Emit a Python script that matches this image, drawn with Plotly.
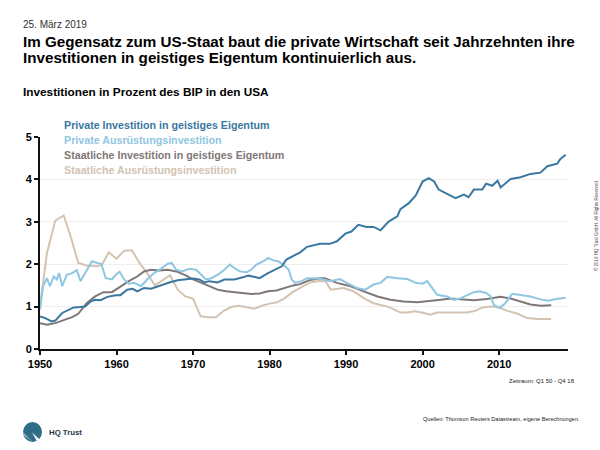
import plotly.graph_objects as go

# ---------------- data ----------------
priv_ip_x = [1950, 1950.7, 1951.5, 1952, 1952.9, 1953.7, 1954.4, 1955.3, 1955.9, 1956.6, 1957.2, 1957.9,
             1958.8, 1959.9, 1960.5, 1961.4, 1962.1, 1962.7, 1963.6, 1964.5, 1965.4, 1966.2, 1967.1,
             1968, 1968.9, 1970, 1970.8, 1971.5, 1972.1, 1973.2, 1974.1, 1975.4, 1976.5, 1977.2,
             1978.1, 1978.7, 1979.8, 1980.7, 1981.6, 1982.2, 1983.1, 1984, 1984.9, 1985.8, 1986.6,
             1987.9, 1988.8, 1989.9, 1990.7, 1991.6, 1992.7, 1993.6, 1994.5, 1995.6, 1996.7, 1997.1,
             1998.2, 1999.1, 2000, 2000.8, 2001.5, 2002.1, 2003.2, 2004.3, 2005.4, 2006, 2006.7,
             2007.8, 2008.3, 2009.1, 2009.8, 2010.2, 2011.5, 2012.8, 2014.1, 2015.4, 2016.3, 2017.6,
             2018, 2018.7]
priv_ip_y = [0.77, 0.73, 0.65, 0.67, 0.85, 0.93, 0.98, 0.99, 1.0, 1.12, 1.16, 1.15,
             1.23, 1.27, 1.27, 1.40, 1.42, 1.36, 1.44, 1.42, 1.48, 1.52, 1.58,
             1.62, 1.64, 1.66, 1.64, 1.57, 1.60, 1.57, 1.64, 1.64, 1.69, 1.73,
             1.70, 1.67, 1.79, 1.87, 1.95, 2.11, 2.19, 2.28, 2.41, 2.44, 2.48,
             2.48, 2.54, 2.72, 2.77, 2.93, 2.88, 2.88, 2.80, 3.01, 3.13, 3.30,
             3.44, 3.62, 3.95, 4.03, 3.95, 3.76, 3.66, 3.56, 3.64, 3.58, 3.76,
             3.76, 3.90, 3.85, 3.97, 3.81, 4.01, 4.05, 4.13, 4.16, 4.31, 4.37,
             4.48, 4.58]

priv_eq_x = [1950, 1950.4, 1950.9, 1951.3, 1951.8, 1952.2, 1952.5, 1952.9, 1953.5, 1954.2, 1954.8,
             1955.3, 1955.9, 1956.4, 1956.8, 1957.5, 1958, 1958.6, 1959.4, 1959.9, 1960.4, 1961,
             1961.6, 1962.3, 1963.2, 1964, 1964.9, 1965.8, 1966.7, 1967.2, 1967.8, 1968.6, 1969.5,
             1970.4, 1971.1, 1971.7, 1972.4, 1973.2, 1974.1, 1974.8, 1975.4, 1976.1, 1977, 1977.6,
             1978.3, 1979.2, 1979.8, 1980.5, 1981.1, 1981.8, 1982.5, 1982.9, 1983.3, 1984.2,
             1984.9, 1986.6, 1987.9, 1989.2, 1990.1, 1991.4, 1992.5, 1993.6, 1994.5, 1995.4,
             1996.7, 1998, 1999.1, 2000, 2000.6, 2001.1, 2001.9, 2003.2, 2004.1, 2005, 2006,
             2006.7, 2007.4, 2008.3, 2008.9, 2009.3, 2010.1, 2010.8, 2011.7, 2012.8, 2014.1,
             2015.4, 2016.4, 2017.5, 2018.7]
priv_eq_y = [0.93, 1.48, 1.67, 1.48, 1.71, 1.64, 1.79, 1.48, 1.75, 1.79, 1.86,
             1.60, 1.79, 1.95, 2.07, 2.03, 2.01, 1.67, 1.64, 1.75, 1.82, 1.64,
             1.54, 1.56, 1.48, 1.64, 1.79, 1.89, 2.01, 2.03, 1.87, 1.83, 1.89,
             1.87, 1.75, 1.64, 1.67, 1.75, 1.87, 1.99, 1.91, 1.83, 1.81, 1.87,
             1.99, 2.07, 2.15, 2.09, 2.07, 1.99, 1.87, 1.64, 1.56, 1.60,
             1.67, 1.66, 1.60, 1.65, 1.56, 1.44, 1.40, 1.52, 1.56, 1.70,
             1.67, 1.65, 1.56, 1.54, 1.60, 1.48, 1.28, 1.24, 1.16, 1.20, 1.28,
             1.34, 1.36, 1.32, 1.24, 1.04, 0.97, 1.08, 1.30, 1.28, 1.24,
             1.17, 1.14, 1.18, 1.21]

gov_ip_x = [1950, 1950.9, 1952, 1953.1, 1954.2, 1955, 1956.1, 1957.2, 1958.3, 1959.4, 1960.5,
            1961.6, 1962.7, 1963.6, 1964.5, 1965.6, 1966.7, 1967.8, 1968.9, 1970, 1971.1, 1972.1,
            1973.2, 1974.3, 1975.4, 1976.5, 1977.6, 1978.7, 1979.8, 1980.9, 1982, 1983.1, 1984,
            1985.3, 1986.6, 1987.2, 1988.8, 1990.6, 1992.3, 1994.1, 1995.8, 1997.5, 1999.3,
            2000.6, 2002.4, 2003.6, 2005.4, 2006.7, 2008.4, 2010.2, 2011.5, 2012.8, 2014.1,
            2015.4, 2016.8]
gov_ip_y = [0.61, 0.57, 0.61, 0.68, 0.75, 0.83, 1.08, 1.24, 1.34, 1.34, 1.48,
            1.60, 1.71, 1.83, 1.87, 1.85, 1.87, 1.83, 1.75, 1.64, 1.56, 1.48,
            1.40, 1.36, 1.34, 1.32, 1.30, 1.31, 1.36, 1.38, 1.44, 1.50, 1.53,
            1.63, 1.67, 1.67, 1.56, 1.48, 1.36, 1.24, 1.16, 1.12, 1.10,
            1.12, 1.16, 1.19, 1.16, 1.15, 1.18, 1.23, 1.19, 1.12, 1.05,
            1.02, 1.03]

gov_eq_x = [1950, 1950.9, 1952, 1953.1, 1954, 1955, 1956.1, 1957.5, 1958.1, 1959, 1960, 1961,
            1962, 1963, 1964, 1965, 1966, 1967, 1968, 1969, 1970, 1971, 1972, 1973, 1974,
            1975, 1976, 1977, 1978, 1979, 1980, 1981, 1982, 1983, 1984, 1985.3, 1986.6,
            1987.3, 1988, 1989.7, 1991, 1992.3, 1993.6, 1995.4, 1996.2, 1997.1, 1998, 1999,
            2000.2, 2001, 2001.9, 2003.6, 2005.8, 2006.9, 2007.8, 2008.9, 2010, 2011.1,
            2012.4, 2013.7, 2015, 2016.8]
gov_eq_y = [1.0, 2.26, 3.03, 3.15, 2.66, 2.03, 1.97, 1.95, 1.99, 2.28, 2.13, 2.32,
            2.33, 2.03, 1.79, 1.50, 1.62, 1.74, 1.40, 1.24, 1.19, 0.77, 0.75, 0.75, 0.90,
            0.99, 1.02, 0.99, 0.95, 1.02, 1.07, 1.10, 1.20, 1.34, 1.44, 1.57, 1.61,
            1.60, 1.40, 1.44, 1.36, 1.20, 1.08, 1.00, 0.94, 0.86, 0.86, 0.89,
            0.85, 0.81, 0.86, 0.86, 0.86, 0.90, 0.98, 1.00, 0.98, 0.90,
            0.83, 0.73, 0.71, 0.71]

series_names = ["Private Investition in geistiges Eigentum",
                "Private Ausrüstungsinvestition",
                "Staatliche Investition in geistiges Eigentum",
                "Staatliche Ausrüstungsinvestition"]
series_colors = ["#3a77a1", "#8fc6e1", "#7f7776", "#d3c3b3"]

x_ticks = [1950, 1960, 1970, 1980, 1990, 2000, 2010]
y_ticks = [0, 1, 2, 3, 4, 5]

# ---------------- layout geometry (pixels) ----------------
W, H = 600, 450
L, R, T, B = 40, 568, 137, 349


def px(x):
    return (x - L) / (R - L)


def py(y):
    return (B - y) / (B - T)


fig = go.Figure()
data = [(gov_eq_x, gov_eq_y, 3), (gov_ip_x, gov_ip_y, 2), (priv_eq_x, priv_eq_y, 1), (priv_ip_x, priv_ip_y, 0)]
for xs, ys, i in data:
    fig.add_trace(go.Scatter(x=xs, y=ys, mode="lines", name=series_names[i],
                             line=dict(color=series_colors[i], width=2), showlegend=False,
                             hoverinfo="skip"))

FONT = "Liberation Sans, Arial, sans-serif"
ann = []


def text(x, y, s, size, color, xanchor="left", **kw):
    d = dict(xref="paper", yref="paper", x=px(x), y=py(y), text=s, showarrow=False,
             xanchor=xanchor, yanchor="middle", font=dict(family=FONT, size=size, color=color))
    d.update(kw)
    ann.append(d)


text(20.5, 24, "25. März 2019", 10, "#333333")
text(20.5, 41, "<b>Im Gegensatz zum US-Staat baut die private Wirtschaft seit Jahrzehnten ihre</b>", 15.2, "#000000")
text(20.5, 57.5, "<b>Investitionen in geistiges Eigentum kontinuierlich aus.</b>", 15.2, "#000000")
text(20.5, 91.5, "<b>Investitionen in Prozent des BIP in den USA</b>", 11.8, "#000000")
for i, yy in enumerate([125, 139.5, 155, 170]):
    text(61.5, yy, "<b>" + series_names[i] + "</b>", 10.7, series_colors[i])
text(577, 381, "Zeitraum: Q1 50 - Q4 18", 6, "#222222", xanchor="right")
text(582, 419, "Quellen: Thomson Reuters Datastream, eigene Berechnungen.", 5.6, "#222222", xanchor="right")
text(596, 226, "© 2019 HQ Trust GmbH. All Rights Reserved.", 4.5, "#555555", xanchor="center", textangle=-90)
text(46.5, 432, "<b>HQ Trust</b>", 7.8, "#1d3a4a")

shapes = [
    dict(type="circle", xref="paper", yref="paper", x0=px(23), x1=px(42), y0=py(442), y1=py(422),
         fillcolor="#2f6e86", line=dict(width=0)),
    dict(type="path", xref="paper", yref="paper",
         path="M {} {} L {} {} L {} {} L {} {} Z".format(px(23), py(432), px(32.5), py(442),
                                                         px(23.5), py(435), px(23), py(432)),
         fillcolor="#9fc0cc", line=dict(width=0)),
    dict(type="path", xref="paper", yref="paper",
         path="M {} {} L {} {} L {} {} Z".format(px(32), py(432.5), px(43), py(442.5), px(38.5), py(444)),
         fillcolor="white", line=dict(width=0)),
]

fig.update_layout(
    width=W, height=H,
    margin=dict(l=L, r=W - R, t=T, b=H - B, pad=0),
    paper_bgcolor="white", plot_bgcolor="white",
    annotations=ann, shapes=shapes,
    xaxis=dict(range=[1950, 2019], tickvals=x_ticks, ticktext=[str(v) for v in x_ticks],
               showgrid=False, zeroline=False, showline=True, linecolor="#111111", linewidth=2,
               ticks="outside", ticklen=4, tickwidth=1.5, tickcolor="#111111",
               tickfont=dict(family=FONT, size=11, color="#000000", weight="bold")),
    yaxis=dict(range=[0, 5], tickvals=y_ticks, showgrid=True, gridcolor="#eeeeee", gridwidth=1,
               zeroline=False, showline=True, linecolor="#111111", linewidth=2,
               ticks="outside", ticklen=4, tickwidth=1.5, tickcolor="#111111",
               tickfont=dict(family=FONT, size=11, color="#000000", weight="bold")),
    showlegend=False,
)

fig.write_html("out.html", config={"displayModeBar": False},
               post_script="document.body.style.margin='0';document.body.style.overflow='hidden';")
